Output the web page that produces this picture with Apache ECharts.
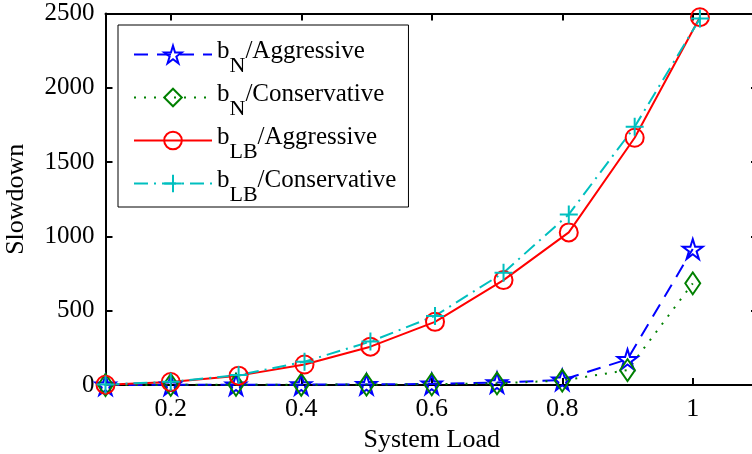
<!DOCTYPE html>
<html>
<head>
<meta charset="utf-8">
<script src="https://cdn.jsdelivr.net/npm/echarts@6/dist/echarts.min.js"></script>
<style>
html,body{margin:0;padding:0;background:#fff;}
#chart{width:752px;height:454px;}
</style>
</head>
<body>
<div id="chart"></div>
<script>
// ---- data ----
const xN = [0.1, 0.2, 0.3, 0.4, 0.5, 0.6, 0.7, 0.8, 0.9, 1.0];
const nAggressive = [0.5, 1, 1.5, 2.5, 4, 7, 16, 34, 173, 915];
const nConservative = [0.3, 0.8, 1.2, 2, 3, 5, 11, 30, 100, 684];
const xLB = [0.1, 0.2, 0.304, 0.405, 0.506, 0.605, 0.71, 0.81, 0.911, 1.011];
const lbAggressive = [2, 20, 63, 138, 258, 425, 706, 1027, 1664, 2475];
const lbConservative = [3, 22, 67, 157, 292, 465, 756, 1148, 1738, 2466];
const xTicks = [0.2, 0.4, 0.6, 0.8, 1];
const seriesNames = ['bN/Aggressive', 'bN/Conservative', 'bLB/Aggressive', 'bLB/Conservative'];

const FONT = 'Liberation Serif';
const FS = 26;

function starPath() {
  let d = '';
  for (let k = 0; k < 10; k++) {
    const r = k % 2 ? 0.382 : 1;
    const a = -Math.PI / 2 + k * Math.PI / 5;
    d += (k ? 'L' : 'M') + (r * Math.cos(a)).toFixed(4) + ',' + (r * Math.sin(a)).toFixed(4);
  }
  return 'path://' + d + 'Z';
}
const STAR = starPath();
const PLUS = 'path://M0,-1L0,1M-1,0L1,0';

function pairs(xs, ys) { return xs.map((x, i) => [x, ys[i]]); }

const chart = echarts.init(document.getElementById('chart'), null, {renderer: 'canvas'});

const axisLineStyle = {show: true, onZero: false, lineStyle: {color: '#000', width: 2}};

const option = {
  animation: false,
  backgroundColor: '#fff',
  textStyle: {fontFamily: FONT, color: '#000'},
  grid: {left: 105.5, top: 13.5, width: 652.5, height: 371.5, containLabel: false, outerBoundsMode: 'none'},
  xAxis: [{
    type: 'value', min: 0.1, max: 1.1, position: 'bottom',
    name: 'System Load', nameLocation: 'middle', nameGap: 37,
    nameTextStyle: {fontFamily: FONT, fontSize: FS, color: '#000'},
    axisLine: axisLineStyle,
    axisTick: {show: true, inside: true, length: 7, lineStyle: {color: '#000', width: 2}, customValues: xTicks},
    axisLabel: {show: true, margin: 11, fontFamily: FONT, fontSize: FS, color: '#000', customValues: xTicks,
      formatter: v => String(+(+v).toFixed(1))},
    splitLine: {show: false}
  }, {
    type: 'value', min: 0.1, max: 1.1, position: 'top',
    axisLine: axisLineStyle,
    axisTick: {show: true, inside: true, length: 7, lineStyle: {color: '#000', width: 2}, customValues: xTicks},
    axisLabel: {show: false},
    splitLine: {show: false}
  }],
  yAxis: [{
    type: 'value', min: 0, max: 2500, interval: 500, position: 'left',
    name: 'Slowdown', nameLocation: 'middle', nameGap: 76,
    nameTextStyle: {fontFamily: FONT, fontSize: FS, color: '#000'},
    axisLine: axisLineStyle,
    axisTick: {show: true, inside: true, length: 7, lineStyle: {color: '#000', width: 2}},
    axisLabel: {show: true, margin: 11, fontFamily: FONT, fontSize: 25, color: '#000',
      formatter: v => String(v)},
    splitLine: {show: false}
  }, {
    type: 'value', min: 0, max: 2500, interval: 500, position: 'right',
    axisLine: axisLineStyle,
    axisTick: {show: true, inside: true, length: 7, lineStyle: {color: '#000', width: 2}},
    axisLabel: {show: false},
    splitLine: {show: false}
  }],
  legend: {
    orient: 'vertical', left: 118, top: 25,
    padding: [7, 12, 1, 15], itemGap: -2,
    itemWidth: 78, itemHeight: 22,
    backgroundColor: '#fff', borderColor: '#000', borderWidth: 1, borderRadius: 0,
    selectedMode: false,
    data: seriesNames,
    formatter: function (name) {
      const parts = name.split('/');
      const sub = parts[0].slice(1);
      return '{a|b}{s|' + sub + '}{a|/' + parts[1] + '}';
    },
    textStyle: {
      fontFamily: FONT, fontSize: 25, color: '#000',
      rich: {
        a: {fontFamily: FONT, fontSize: 25, color: '#000', padding: [0, 0, 6, 0], lineHeight: 40},
        s: {fontFamily: FONT, fontSize: 22, color: '#000', padding: [23, 0, 0, 0], lineHeight: 40}
      }
    }
  },
  series: [{
    name: seriesNames[0], type: 'line', data: pairs(xN, nAggressive),
    symbol: STAR, symbolSize: 20, showAllSymbol: true,
    lineStyle: {color: '#0000ff', width: 2, type: [14, 9]},
    itemStyle: {color: 'rgba(0,0,0,0)', borderColor: '#0000ff', borderWidth: 2},
    emphasis: {disabled: true}
  }, {
    name: seriesNames[1], type: 'line', data: pairs(xN, nConservative),
    symbol: 'diamond', symbolSize: [15, 22], showAllSymbol: true,
    lineStyle: {color: '#008000', width: 2, type: [2, 8]},
    itemStyle: {color: 'rgba(0,0,0,0)', borderColor: '#008000', borderWidth: 2},
    emphasis: {disabled: true}
  }, {
    name: seriesNames[2], type: 'line', data: pairs(xLB, lbAggressive),
    symbol: 'circle', symbolSize: 18, showAllSymbol: true,
    lineStyle: {color: '#ff0000', width: 2, type: 'solid'},
    itemStyle: {color: 'rgba(0,0,0,0)', borderColor: '#ff0000', borderWidth: 2},
    emphasis: {disabled: true}
  }, {
    name: seriesNames[3], type: 'line', data: pairs(xLB, lbConservative),
    symbol: PLUS, symbolSize: 18, showAllSymbol: true,
    lineStyle: {color: '#00bfbf', width: 2, type: [14, 6, 2, 6]},
    itemStyle: {color: 'rgba(0,0,0,0)', borderColor: '#00bfbf', borderWidth: 2},
    emphasis: {disabled: true}
  }]
};
chart.setOption(option);
</script>
</body>
</html>
